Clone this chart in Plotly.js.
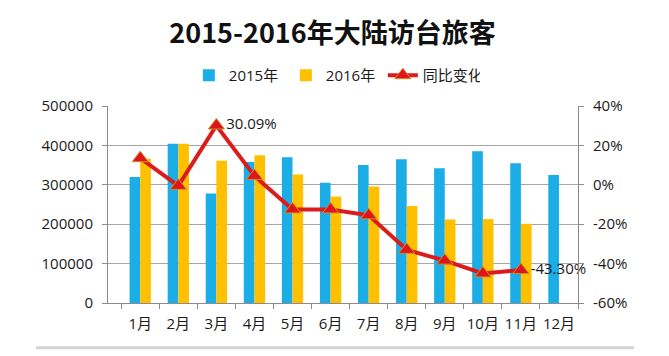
<!DOCTYPE html>
<html>
<head>
<meta charset="utf-8">
<script src="https://cdn.plot.ly/plotly-3.0.1.min.js"></script>
<style>
html,body{margin:0;padding:0;background:#fff;}
#chart{width:669px;height:356px;}
</style>
</head>
<body>
<div id="chart"></div>
<script>
const months = ["1月","2月","3月","4月","5月","6月","7月","8月","9月","10月","11月","12月"];
const visitors2015 = [320000, 404000, 278000, 358000, 370000, 305000, 350000, 365000, 342000, 385000, 355000, 325000];
const visitors2016 = [366000, 404000, 361000, 375000, 326000, 270000, 296000, 246000, 212000, 213000, 201000, null];
const yoyChange = [13.5, -0.5, 30.09, 4.5, -12.5, -12.5, -15.5, -33, -38.5, -45, -43.3];
const labelIdx = [2, 10];
const leftTicks = [0, 100000, 200000, 300000, 400000, 500000];
const rightTicks = [-60, -40, -20, 0, 20, 40];

const FONT = "'Open Sans', 'Noto Sans CJK SC', sans-serif";

const yoyText = yoyChange.map((v, i) => labelIdx.includes(i) ? v.toFixed(2) + "%" : "");

const traces = [
  {
    type: "bar", name: "2015年", x: months, y: visitors2015,
    marker: {color: "#1aade6"}, hoverinfo: "skip"
  },
  {
    type: "bar", name: "2016年", x: months, y: visitors2016,
    marker: {color: "#ffc000"}, hoverinfo: "skip"
  },
  {
    type: "scatter", mode: "lines+markers+text", name: "同比变化",
    x: months.slice(0, yoyChange.length), y: yoyChange, yaxis: "y2",
    line: {color: "#dc1c1c", width: 4},
    marker: {symbol: "triangle-up", size: 14, color: "#e0141a", line: {color: "#c8902a", width: 1}},
    text: yoyText, textposition: "middle right",
    textfont: {family: FONT, size: 15, color: "#1a1a1a"},
    cliponaxis: false, hoverinfo: "skip"
  }
];

const layout = {
  width: 669, height: 356,
  margin: {l: 108, r: 91, t: 106, b: 53, pad: 0},
  paper_bgcolor: "#ffffff", plot_bgcolor: "#ffffff",
  font: {family: FONT, size: 15, color: "#1a1a1a"},
  title: {
    text: "2015-2016年大陆访台旅客",
    font: {family: "'Noto Sans CJK SC', sans-serif", size: 27, color: "#111111", weight: 700},
    x: 0.497, xanchor: "center", xref: "container",
    y: 0.907, yanchor: "middle", yref: "container"
  },
  showlegend: true,
  legend: {
    orientation: "h", x: 0.172, xanchor: "left", y: 1.155, yanchor: "middle",
    font: {family: FONT, size: 15, color: "#1a1a1a"},
    entrywidth: 52, entrywidthmode: "pixels",
    bgcolor: "rgba(0,0,0,0)", traceorder: "normal"
  },
  barmode: "group", bargap: 0.44, bargroupgap: 0,
  xaxis: {
    type: "category", showline: true, linecolor: "#8c8c8c", linewidth: 1,
    ticks: "outside", tickson: "boundaries", ticklen: 5, tickcolor: "#8c8c8c",
    tickangle: 0, ticklabelstandoff: 7,
    tickfont: {family: FONT, size: 15, color: "#1a1a1a"},
    showgrid: false, zeroline: false, fixedrange: true
  },
  yaxis: {
    range: [0, 500000], tickvals: leftTicks, ticktext: leftTicks.map(v => String(v)),
    showline: true, linecolor: "#8c8c8c", linewidth: 1,
    ticks: "outside", ticklen: 5, tickcolor: "#8c8c8c",
    showgrid: true, gridcolor: "#a6a6a6", gridwidth: 1,
    zeroline: false, ticklabelstandoff: 6,
    tickfont: {family: FONT, size: 15, color: "#1a1a1a"}, fixedrange: true
  },
  yaxis2: {
    overlaying: "y", side: "right", range: [-60, 40],
    tickvals: rightTicks, ticktext: rightTicks.map(v => v + "%"),
    showline: true, linecolor: "#8c8c8c", linewidth: 1,
    ticks: "outside", ticklen: 5, tickcolor: "#8c8c8c",
    showgrid: false, zeroline: false, ticklabelstandoff: 6,
    tickfont: {family: FONT, size: 15, color: "#1a1a1a"}, fixedrange: true
  },
  shapes: [
    {type: "line", xref: "paper", yref: "paper", x0: -0.153, x1: 1.119, y0: -0.227, y1: -0.227,
     line: {color: "#d4d4d4", width: 3}}
  ]
};

Plotly.newPlot("chart", traces, layout, {staticPlot: true, displayModeBar: false});
</script>
</body>
</html>
